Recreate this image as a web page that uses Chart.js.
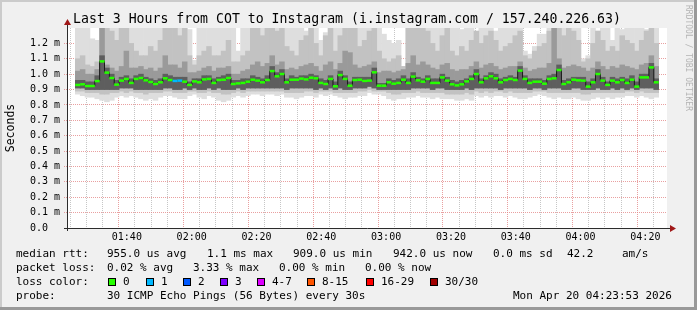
<!DOCTYPE html>
<html>
<head>
<meta charset="utf-8">
<script src="https://cdn.jsdelivr.net/npm/chart.js@4.4.1/dist/chart.umd.min.js"></script>
<style>
html, body { margin: 0; padding: 0; background: #f0f0f0; }
canvas { display: block; }
</style>
</head>
<body>
<canvas id="smoke" width="697" height="310"></canvas>
<script>
// 120 slots of 90 s, first slot starts at 01:24:06 (minutes since midnight)
const startMin = 84.1;
const stepMin = 1.5;

// median rtt per slot (ms)
const median = [
    0.930, 0.934, 0.923, 0.923, 0.955, 1.083, 1.010, 0.975, 0.932, 0.958,
    0.969, 0.943, 0.969, 0.975, 0.960, 0.949, 0.936, 0.947, 0.973, 0.962,
    0.956, 0.958, 0.951, 0.930, 0.953, 0.947, 0.966, 0.969, 0.943, 0.962,
    0.964, 0.975, 0.936, 0.940, 0.943, 0.951, 0.964, 0.958, 0.947, 0.962,
    1.020, 0.986, 1.001, 0.947, 0.964, 0.964, 0.971, 0.966, 0.977, 0.973,
    0.943, 0.936, 0.969, 0.921, 0.994, 0.969, 0.925, 0.962, 0.964, 0.956,
    0.958, 1.012, 0.925, 0.925, 0.947, 0.938, 0.943, 0.964, 0.943, 0.984,
    0.960, 0.951, 0.969, 0.943, 0.943, 0.979, 0.958, 0.934, 0.927, 0.934,
    0.953, 0.969, 1.001, 0.947, 0.973, 0.986, 0.973, 0.947, 0.962, 0.969,
    0.962, 1.023, 0.969, 0.943, 0.951, 0.951, 0.938, 0.969, 0.973, 1.027,
    0.936, 0.947, 0.964, 0.960, 0.958, 0.919, 0.947, 1.001, 0.958, 0.930,
    0.958, 0.947, 0.962, 0.943, 0.964, 0.919, 0.979, 0.979, 1.044, 0.947
];

// smoke: spread of the 30 pings per slot (ms)
const p0 = [
    0.87, 0.86, 0.85, 0.85, 0.84, 0.83, 0.82, 0.83, 0.85, 0.86,
    0.85, 0.86, 0.85, 0.84, 0.83, 0.84, 0.83, 0.85, 0.86, 0.86,
    0.85, 0.84, 0.84, 0.86, 0.87, 0.85, 0.84, 0.86, 0.85, 0.83,
    0.82, 0.83, 0.85, 0.86, 0.85, 0.86, 0.87, 0.87, 0.86, 0.87,
    0.87, 0.86, 0.87, 0.85, 0.85, 0.84, 0.85, 0.86, 0.86, 0.85,
    0.87, 0.86, 0.87, 0.86, 0.85, 0.84, 0.85, 0.85, 0.86, 0.86,
    0.88, 0.87, 0.87, 0.86, 0.84, 0.83, 0.84, 0.84, 0.85, 0.85,
    0.86, 0.85, 0.85, 0.84, 0.85, 0.84, 0.84, 0.84, 0.83, 0.83,
    0.84, 0.83, 0.86, 0.85, 0.86, 0.85, 0.86, 0.86, 0.85, 0.86,
    0.85, 0.84, 0.84, 0.85, 0.86, 0.87, 0.86, 0.85, 0.84, 0.85,
    0.84, 0.84, 0.85, 0.84, 0.83, 0.83, 0.84, 0.85, 0.84, 0.85,
    0.84, 0.85, 0.85, 0.86, 0.86, 0.85, 0.86, 0.85, 0.84, 0.85
];
const p10 = [
    0.89, 0.89, 0.88, 0.88, 0.88, 0.87, 0.87, 0.88, 0.88, 0.89,
    0.88, 0.89, 0.88, 0.88, 0.87, 0.88, 0.88, 0.88, 0.89, 0.89,
    0.88, 0.88, 0.88, 0.89, 0.89, 0.88, 0.88, 0.89, 0.88, 0.88,
    0.87, 0.87, 0.88, 0.89, 0.88, 0.89, 0.89, 0.89, 0.89, 0.89,
    0.89, 0.89, 0.89, 0.88, 0.88, 0.88, 0.88, 0.89, 0.89, 0.88,
    0.89, 0.89, 0.89, 0.88, 0.88, 0.88, 0.88, 0.88, 0.89, 0.89,
    0.90, 0.89, 0.89, 0.89, 0.88, 0.87, 0.87, 0.88, 0.88, 0.88,
    0.89, 0.88, 0.88, 0.88, 0.88, 0.88, 0.87, 0.87, 0.87, 0.87,
    0.88, 0.87, 0.89, 0.88, 0.89, 0.88, 0.89, 0.89, 0.88, 0.89,
    0.88, 0.88, 0.88, 0.88, 0.89, 0.89, 0.89, 0.88, 0.88, 0.88,
    0.88, 0.88, 0.88, 0.88, 0.87, 0.87, 0.88, 0.88, 0.88, 0.88,
    0.88, 0.88, 0.88, 0.89, 0.89, 0.88, 0.89, 0.88, 0.88, 0.88
];
const p25 = [
    0.91, 0.91, 0.90, 0.90, 0.90, 0.90, 0.90, 0.90, 0.90, 0.91,
    0.91, 0.91, 0.90, 0.90, 0.90, 0.90, 0.90, 0.90, 0.91, 0.91,
    0.90, 0.90, 0.91, 0.90, 0.91, 0.90, 0.90, 0.91, 0.90, 0.91,
    0.90, 0.90, 0.90, 0.91, 0.90, 0.91, 0.91, 0.91, 0.91, 0.91,
    0.91, 0.91, 0.91, 0.90, 0.91, 0.91, 0.91, 0.91, 0.91, 0.90,
    0.91, 0.90, 0.91, 0.90, 0.91, 0.90, 0.90, 0.91, 0.91, 0.91,
    0.92, 0.91, 0.90, 0.90, 0.90, 0.90, 0.90, 0.90, 0.90, 0.91,
    0.91, 0.91, 0.91, 0.90, 0.91, 0.91, 0.90, 0.90, 0.90, 0.90,
    0.91, 0.90, 0.91, 0.91, 0.91, 0.91, 0.91, 0.90, 0.91, 0.91,
    0.91, 0.91, 0.91, 0.90, 0.91, 0.91, 0.90, 0.91, 0.91, 0.91,
    0.90, 0.90, 0.91, 0.91, 0.90, 0.90, 0.90, 0.91, 0.90, 0.90,
    0.91, 0.90, 0.91, 0.90, 0.91, 0.90, 0.91, 0.91, 0.91, 0.90
];
const p60 = [
    0.96, 0.96, 0.95, 0.95, 0.99, 1.12, 1.04, 1.00, 0.96, 0.98,
    0.99, 0.97, 0.99, 1.00, 0.98, 0.97, 0.96, 0.97, 1.00, 0.99,
    0.98, 0.98, 0.98, 0.95, 0.97, 0.97, 0.99, 0.99, 0.97, 0.98,
    0.99, 1.00, 0.96, 0.96, 0.97, 0.97, 0.99, 0.98, 0.97, 0.99,
    1.05, 1.01, 1.03, 0.97, 0.99, 0.98, 0.99, 0.99, 1.00, 0.99,
    0.97, 0.96, 0.99, 0.95, 1.02, 0.99, 0.95, 0.98, 0.98, 0.98,
    0.98, 1.04, 0.94, 0.94, 0.97, 0.96, 0.97, 0.99, 0.97, 1.01,
    0.98, 0.97, 0.99, 0.97, 0.97, 1.00, 0.98, 0.96, 0.95, 0.96,
    0.97, 0.99, 1.03, 0.97, 0.99, 1.01, 1.00, 0.97, 0.98, 0.99,
    0.98, 1.05, 0.99, 0.97, 0.97, 0.97, 0.96, 0.99, 1.00, 1.06,
    0.96, 0.97, 0.98, 0.98, 0.98, 0.95, 0.97, 1.03, 0.98, 0.95,
    0.98, 0.97, 0.98, 0.97, 0.99, 0.95, 1.00, 1.00, 1.07, 0.97
];
const p75 = [
    1.02, 1.03, 1.00, 1.00, 1.03, 1.35, 1.06, 1.04, 1.02, 1.05,
    1.15, 1.04, 1.04, 1.05, 1.03, 1.04, 1.02, 1.04, 1.12, 1.06,
    1.06, 1.04, 1.08, 1.01, 1.01, 1.02, 1.04, 1.05, 1.02, 1.04,
    1.04, 1.05, 1.00, 1.00, 1.02, 1.03, 1.06, 1.08, 1.05, 1.07,
    1.12, 1.06, 1.08, 1.03, 1.04, 1.03, 1.05, 1.06, 1.07, 1.05,
    1.02, 1.06, 1.08, 1.03, 1.07, 1.15, 1.14, 1.06, 1.04, 1.05,
    1.06, 1.08, 1.01, 1.02, 1.02, 1.01, 1.02, 1.03, 1.07, 1.12,
    1.06, 1.08, 1.06, 1.04, 1.03, 1.06, 1.07, 1.03, 1.02, 1.03,
    1.03, 1.05, 1.08, 1.04, 1.06, 1.07, 1.05, 1.03, 1.04, 1.05,
    1.05, 1.08, 1.04, 1.02, 1.03, 1.04, 1.04, 1.07, 1.35, 1.10,
    1.04, 1.05, 1.06, 1.05, 1.04, 1.02, 1.04, 1.08, 1.05, 1.03,
    1.05, 1.04, 1.06, 1.05, 1.04, 1.03, 1.06, 1.07, 1.12, 1.05
];
const p90 = [
    1.10, 1.12, 1.06, 1.05, 1.08, 1.35, 1.30, 1.28, 1.22, 1.30,
    1.33, 1.20, 1.15, 1.12, 1.12, 1.18, 1.15, 1.22, 1.33, 1.30,
    1.33, 1.25, 1.33, 1.12, 1.06, 1.12, 1.15, 1.18, 1.12, 1.12,
    1.15, 1.22, 1.08, 1.08, 1.12, 1.15, 1.30, 1.33, 1.25, 1.33,
    1.33, 1.28, 1.30, 1.18, 1.15, 1.12, 1.22, 1.25, 1.30, 1.20,
    1.12, 1.25, 1.30, 1.15, 1.25, 1.33, 1.33, 1.30, 1.18, 1.22,
    1.28, 1.30, 1.15, 1.10, 1.08, 1.10, 1.12, 1.05, 1.33, 1.33,
    1.30, 1.33, 1.28, 1.20, 1.15, 1.25, 1.30, 1.15, 1.12, 1.18,
    1.15, 1.22, 1.28, 1.20, 1.25, 1.28, 1.22, 1.15, 1.18, 1.20,
    1.25, 1.28, 1.12, 1.10, 1.15, 1.18, 1.20, 1.28, 1.35, 1.33,
    1.25, 1.30, 1.28, 1.22, 1.08, 1.10, 1.20, 1.28, 1.22, 1.15,
    1.18, 1.15, 1.25, 1.22, 1.20, 1.15, 1.22, 1.28, 1.30, 1.20
];
const p100 = [
    1.35, 1.35, 1.35, 1.23, 1.22, 1.35, 1.35, 1.35, 1.35, 1.35,
    1.35, 1.35, 1.35, 1.35, 1.35, 1.35, 1.35, 1.35, 1.35, 1.35,
    1.35, 1.35, 1.35, 1.29, 1.09, 1.35, 1.35, 1.35, 1.35, 1.35,
    1.35, 1.35, 1.30, 1.15, 1.35, 1.35, 1.35, 1.35, 1.35, 1.35,
    1.35, 1.35, 1.35, 1.35, 1.35, 1.35, 1.35, 1.28, 1.35, 1.35,
    1.22, 1.27, 1.35, 1.35, 1.35, 1.35, 1.35, 1.35, 1.35, 1.35,
    1.35, 1.35, 1.35, 1.26, 1.22, 1.20, 1.22, 1.05, 1.35, 1.35,
    1.35, 1.35, 1.35, 1.35, 1.35, 1.35, 1.35, 1.35, 1.35, 1.29,
    1.35, 1.35, 1.25, 1.35, 1.35, 1.35, 1.28, 1.35, 1.30, 1.30,
    1.35, 1.35, 1.15, 1.13, 1.18, 1.26, 1.26, 1.35, 1.35, 1.35,
    1.35, 1.35, 1.35, 1.35, 1.10, 1.12, 1.35, 1.28, 1.35, 1.35,
    1.22, 1.35, 1.29, 1.35, 1.35, 1.35, 1.35, 1.29, 1.28, 1.30
];

// slots with packet loss (index into median) and how many pings were lost
const lossSlots = [20, 21];
const lossCounts = [1, 1];

const lossLabels = ['0', '1', '2', '3', '4-7', '8-15', '16-29', '30/30'];
const lossColors = ['#26ff00', '#00b8ff', '#0059ff', '#7e00ff', '#dd00ff', '#ff5500', '#ff0000', '#a10000'];

const yTickLabels = ['0.0  ', '0.1 m', '0.2 m', '0.3 m', '0.4 m', '0.5 m', '0.6 m',
                     '0.7 m', '0.8 m', '0.9 m', '1.0 m', '1.1 m', '1.2 m'];
const xTickLabels = ['01:40', '02:00', '02:20', '02:40', '03:00', '03:20', '03:40', '04:00', '04:20'];

const statsRtt = ['median rtt:', '955.0 us avg', '1.1 ms max', '909.0 us min', '942.0 us now', '0.0 ms sd', '42.2', 'am/s'];
const statsLoss = ['packet loss:', '0.02 % avg', '3.33 % max', '0.00 % min', '0.00 % now'];
const probeText = ['probe:', '30 ICMP Echo Pings (56 Bytes) every 30s', 'Mon Apr 20 04:23:53 2026'];
const titleText = 'Last 3 Hours from COT to Instagram (i.instagram.com / 157.240.226.63)';

const MONO = '"DejaVu Sans Mono", monospace';
const MAJOR = 'rgba(226, 128, 128, 0.75)';
const MINOR = 'rgba(160, 160, 160, 0.6)';

const xs = median.map((_, i) => startMin + stepMin * (i + 0.5));

function band(lo, hi)
{
    return xs.map((x, i) => ({ x: x, y: [lo[i], hi[i]] }));
}

function lossColorFor(i)
{
    const k = lossSlots.indexOf(i);
    if (k < 0) return lossColors[0];
    const n = lossCounts[k];
    if (n <= 3) return lossColors[n];
    if (n <= 7) return lossColors[4];
    if (n <= 15) return lossColors[5];
    if (n <= 29) return lossColors[6];
    return lossColors[7];
}

function smokeLayer(lo, hi, color, order)
{
    return {
        type: 'bar',
        data: band(lo, hi),
        backgroundColor: color,
        borderWidth: 0,
        grouped: false,
        barPercentage: 1,
        categoryPercentage: 1,
        order: order
    };
}

const frame = {
    id: 'frame',
    beforeDraw(chart)
    {
        const ctx = chart.ctx;
        const a = chart.chartArea;
        ctx.save();
        ctx.fillStyle = '#f0f0f0';
        ctx.fillRect(0, 0, 697, 310);
        ctx.fillStyle = '#cbcbcb';
        ctx.fillRect(0, 0, 697, 2);
        ctx.fillRect(0, 0, 2, 310);
        ctx.fillStyle = '#999999';
        ctx.fillRect(0, 307, 697, 3);
        ctx.fillRect(694, 0, 3, 310);
        ctx.fillStyle = '#ffffff';
        ctx.fillRect(a.left, a.top, a.right - a.left, a.bottom - a.top);
        ctx.restore();
    },
    afterDraw(chart)
    {
        const ctx = chart.ctx;
        const a = chart.chartArea;
        ctx.save();

        // axes and arrows
        ctx.strokeStyle = '#2c2c2c';
        ctx.lineWidth = 1;
        ctx.beginPath();
        ctx.moveTo(a.left + 0.5, a.bottom + 3);
        ctx.lineTo(a.left + 0.5, a.top - 4);
        ctx.moveTo(a.left - 3, a.bottom + 0.5);
        ctx.lineTo(a.right + 4, a.bottom + 0.5);
        ctx.stroke();
        ctx.fillStyle = '#a01818';
        ctx.beginPath();
        ctx.moveTo(a.left + 0.5, a.top - 9);
        ctx.lineTo(a.left - 3, a.top - 3);
        ctx.lineTo(a.left + 4, a.top - 3);
        ctx.closePath();
        ctx.fill();
        ctx.beginPath();
        ctx.moveTo(a.right + 9, a.bottom + 0.5);
        ctx.lineTo(a.right + 3, a.bottom - 3);
        ctx.lineTo(a.right + 3, a.bottom + 4);
        ctx.closePath();
        ctx.fill();

        // title
        ctx.fillStyle = '#000';
        ctx.textBaseline = 'middle';
        ctx.textAlign = 'center';
        ctx.font = '13.2px ' + MONO;
        ctx.fillText(titleText, 347, 20);

        // y axis title
        ctx.save();
        ctx.translate(11, 128);
        ctx.rotate(-Math.PI / 2);
        ctx.font = '11.5px ' + MONO;
        ctx.fillText('Seconds', 0, 0);
        ctx.restore();

        // watermark
        ctx.save();
        ctx.translate(688, 5);
        ctx.rotate(Math.PI / 2);
        ctx.textAlign = 'left';
        ctx.fillStyle = '#b4b4b4';
        ctx.font = '8px ' + MONO;
        ctx.fillText('RRDTOOL / TOBI OETIKER', 0, 0);
        ctx.restore();

        // legend
        ctx.textAlign = 'left';
        ctx.font = '11px ' + MONO;
        const rttX = [16, 107, 207, 293, 393, 493, 567, 622];
        statsRtt.forEach((t, i) => ctx.fillText(t, rttX[i], 254));
        const lossX = [16, 107, 193, 279, 365];
        statsLoss.forEach((t, i) => ctx.fillText(t, lossX[i], 268));
        ctx.fillText('loss color:', 16, 282);
        const boxX = [108, 146, 183, 220, 257, 307, 366, 430];
        lossLabels.forEach((t, i) => {
            ctx.fillStyle = lossColors[i];
            ctx.fillRect(boxX[i], 278, 8, 8);
            ctx.strokeStyle = '#000';
            ctx.strokeRect(boxX[i] + 0.5, 278.5, 7, 7);
            ctx.fillStyle = '#000';
            ctx.fillText(t, boxX[i] + 15, 282);
        });
        ctx.fillText(probeText[0], 16, 296);
        ctx.fillText(probeText[1], 107, 296);
        ctx.fillText(probeText[2], 513, 296);
        ctx.restore();
    }
};

new Chart(document.getElementById('smoke'), {
    type: 'bar',
    data: {
        datasets: [
            {
                type: 'line',
                data: xs.map((x, i) => ({ x: x, y: median[i] })),
                showLine: false,
                pointStyle: 'line',
                pointRadius: 2.5,
                pointBorderWidth: 2.5,
                pointBorderColor: median.map((_, i) => lossColorFor(i)),
                order: 0
            },
            {
                type: 'line',
                data: xs.map((x, i) => ({ x: x, y: median[i] })),
                stepped: 'middle',
                borderColor: '#1a1a1a',
                borderWidth: 1,
                pointRadius: 0,
                order: 1
            },
            smokeLayer(p25, p60, '#5e5e5e', 2),
            smokeLayer(p25, p75, '#9a9a9a', 3),
            smokeLayer(p10, p90, '#c2c2c2', 4),
            smokeLayer(p0, p100, '#dedede', 5)
        ]
    },
    options: {
        responsive: false,
        animation: false,
        devicePixelRatio: 1,
        layout: { padding: { left: 0, right: 30, top: 28, bottom: 0 } },
        plugins: { legend: { display: false }, tooltip: { enabled: false } },
        scales: {
            x: {
                type: 'linear',
                min: startMin,
                max: startMin + stepMin * median.length,
                z: 1,
                afterFit: s => { s.height = 82; },
                afterBuildTicks: s => {
                    s.ticks = [];
                    for (let m = 85; m <= 260; m += 5) s.ticks.push({ value: m });
                },
                grid: {
                    color: c => c.tick && c.tick.value % 20 === 0 ? MAJOR : MINOR,
                    lineWidth: 1,
                    drawTicks: false
                },
                border: { display: false, dash: [1, 1] },
                ticks: {
                    autoSkip: false,
                    maxRotation: 0,
                    padding: 3,
                    color: '#000',
                    font: { family: MONO, size: 10 },
                    callback: v => v % 20 === 0 ? xTickLabels[(v - 100) / 20] : ''
                }
            },
            y: {
                min: 0,
                max: 1.3,
                z: 1,
                afterFit: s => { s.width = 67; },
                grid: {
                    color: c => {
                        const k = c.tick ? Math.round(c.tick.value * 10) : 0;
                        return (k <= 0 || k >= 13) ? 'rgba(0,0,0,0)' : MAJOR;
                    },
                    lineWidth: 1,
                    drawTicks: true,
                    tickLength: 3,
                    tickBorderDash: [1, 1]
                },
                border: { display: false, dash: [1, 1] },
                ticks: {
                    stepSize: 0.1,
                    padding: 4,
                    color: '#000',
                    font: { family: MONO, size: 10 },
                    callback: v => {
                        const k = Math.round(v * 10);
                        return k < yTickLabels.length ? yTickLabels[k] : '';
                    }
                }
            }
        }
    },
    plugins: [frame]
});
</script>
</body>
</html>
